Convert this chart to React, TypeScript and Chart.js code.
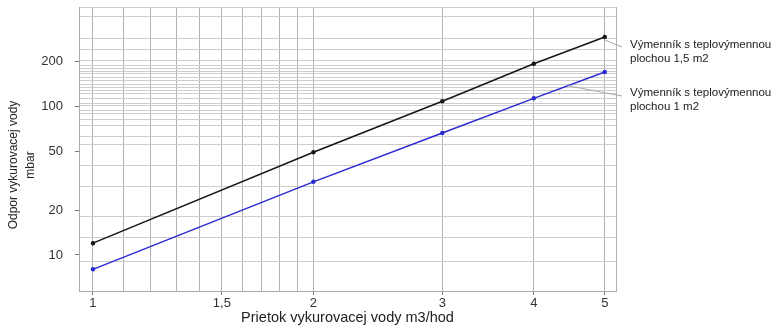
import React, { useEffect, useRef } from 'react';
import { Chart, registerables } from 'chart.js';

Chart.register(...registerables);

// ---- data ----
const flowX = [1, 2, 3, 4, 5];
const drop15 = [12, 49, 108, 193, 292]; // Výmenník 1,5 m2 (black)
const drop1 = [8, 31, 66, 113, 170]; // Výmenník 1 m2 (blue)

const legend15 = ['Výmenník s teplovýmennou', 'plochou 1,5 m2'];
const legend1 = ['Výmenník s teplovýmennou', 'plochou 1 m2'];
const xTitle = 'Prietok vykurovacej vody m3/hod';
const yTitle = ['Odpor vykurovacej vody', 'mbar'];

const xMin = 0.957;
const xMax = 5.18;
const yMin = 5.72;
const yMax = 465;

const xGrid = [1, 1.1, 1.2, 1.3, 1.4, 1.5, 1.6, 1.7, 1.8, 1.9, 2, 3, 4, 5];
const xTickValues = [1, 1.5, 2, 3, 4, 5];
const xTickText = ['1', '1,5', '2', '3', '4', '5'];

const yGrid = [9, 13, 18, 29, 40, 55, 63, 74, 81, 89, 94, 101, 105, 112, 121, 127, 134, 141, 148, 156, 165, 170, 180, 189, 203, 241, 286, 400];
const yTickValues = [10, 20, 50, 100, 200];
const yTickText = ['10', '20', '50', '100', '200'];

const FONT = '"Liberation Sans", Arial, sans-serif';

function mergeTicks(a: number[], b: number[], lo: number, hi: number) {
  return Array.from(new Set([lo, ...a, ...b, hi])).sort((p, q) => p - q).map((v) => ({ value: v }));
}

const annotPlugin = {
  id: 'annot',
  afterDatasetsDraw(chart: any) {
    const { ctx, chartArea, scales } = chart;
    const xs = scales.x;
    const ys = scales.y;
    ctx.save();
    // y axis title
    const cy = (chartArea.top + chartArea.bottom) / 2 + 16;
    ctx.fillStyle = '#222';
    ctx.font = `12px ${FONT}`;
    ctx.textAlign = 'center';
    ctx.textBaseline = 'middle';
    yTitle.forEach((t, i) => {
      ctx.save();
      ctx.translate(14 + i * 17, cy);
      ctx.rotate(-Math.PI / 2);
      ctx.fillText(t, 0, 0);
      ctx.restore();
    });

    // leader lines
    ctx.strokeStyle = '#a8a8a8';
    ctx.lineWidth = 1;
    const lastI = flowX.length - 1;
    const p1x = xs.getPixelForValue(flowX[lastI]);
    const p1y = ys.getPixelForValue(drop15[lastI]);
    const ex = chartArea.right + 6;
    ctx.beginPath();
    ctx.moveTo(p1x, p1y + 3);
    ctx.lineTo(ex, 47);
    ctx.stroke();

    const xa = 4.45;
    const t = Math.log(xa / flowX[lastI - 1]) / Math.log(flowX[lastI] / flowX[lastI - 1]);
    const ya = drop1[lastI - 1] * Math.pow(drop1[lastI] / drop1[lastI - 1], t);
    ctx.beginPath();
    ctx.moveTo(xs.getPixelForValue(xa), ys.getPixelForValue(ya));
    ctx.lineTo(ex, 96);
    ctx.stroke();

    // labels
    ctx.fillStyle = '#1a1a1a';
    ctx.font = `11.5px ${FONT}`;
    ctx.textAlign = 'left';
    const tx = chartArea.right + 14;
    ctx.fillText(legend15[0], tx, 45);
    ctx.fillText(legend15[1], tx, 59);
    ctx.fillText(legend1[0], tx, 93);
    ctx.fillText(legend1[1], tx, 107);
    ctx.restore();
  },
};

export default function App() {
  const ref = useRef<HTMLCanvasElement>(null);
  useEffect(() => {
    if (!ref.current) return;
    Chart.defaults.font.family = FONT;
    const chart = new Chart(ref.current, {
      type: 'line',
      data: {
        datasets: [
          {
            label: legend15.join(' '),
            data: flowX.map((x, i) => ({ x, y: drop15[i] })),
            borderColor: '#161616',
            backgroundColor: '#161616',
            borderWidth: 1.5,
            pointRadius: 1.5,
            pointHoverRadius: 1.5,
            tension: 0,
          },
          {
            label: legend1.join(' '),
            data: flowX.map((x, i) => ({ x, y: drop1[i] })),
            borderColor: '#2a2ad2',
            backgroundColor: '#2a2ad2',
            borderWidth: 1.5,
            pointRadius: 1.5,
            pointHoverRadius: 1.5,
            tension: 0,
          },
        ],
      },
      options: {
        responsive: false,
        animation: false,
        layout: { padding: { top: 7, right: 159, left: 0, bottom: 0 } },
        plugins: { legend: { display: false }, tooltip: { enabled: false } },
        scales: {
          x: {
            type: 'logarithmic',
            min: xMin,
            max: xMax,
            afterBuildTicks: (s: any) => {
              s.ticks = mergeTicks(xGrid, xTickValues, xMin, xMax);
            },
            afterFit: (s: any) => {
              s.height = 41;
              s.paddingLeft = 0;
              s.paddingRight = 0;
            },
            grid: {
              color: (c: any) => {
                const v = c.tick?.value;
                return xGrid.includes(v) || v === xMax ? '#b4b4b4' : 'rgba(0,0,0,0)';
              },
              tickColor: (c: any) => (xTickValues.includes(c.tick?.value) ? '#777' : 'rgba(0,0,0,0)'),
              tickLength: 4,
              lineWidth: 1,
            },
            border: { color: '#aaaaaa' },
            ticks: {
              autoSkip: false,
              maxRotation: 0,
              padding: 1,
              color: '#333',
              font: { size: 13 },
              callback: (v: any) => {
                const i = xTickValues.indexOf(Number(v));
                return i >= 0 ? xTickText[i] : '';
              },
            },
            title: {
              display: true,
              text: xTitle,
              color: '#222',
              font: { size: 14.5 },
              padding: { top: 0, bottom: 5 },
            },
          },
          y: {
            type: 'logarithmic',
            min: yMin,
            max: yMax,
            afterBuildTicks: (s: any) => {
              s.ticks = mergeTicks(yGrid, yTickValues, yMin, yMax);
            },
            afterFit: (s: any) => {
              s.width = 79;
              s.paddingTop = 0;
              s.paddingBottom = 0;
            },
            grid: {
              color: (c: any) => {
                const v = c.tick?.value;
                return yGrid.includes(v) || v === yMax ? '#cdcdcd' : 'rgba(0,0,0,0)';
              },
              tickColor: (c: any) => (yTickValues.includes(c.tick?.value) ? '#777' : 'rgba(0,0,0,0)'),
              tickLength: 4,
              lineWidth: 1,
            },
            border: { color: '#aaaaaa' },
            ticks: {
              autoSkip: false,
              padding: 12,
              color: '#333',
              font: { size: 13 },
              callback: (v: any) => {
                const i = yTickValues.indexOf(Number(v));
                return i >= 0 ? yTickText[i] : '';
              },
            },
          },
        },
      },
      plugins: [annotPlugin],
    } as any);
    return () => chart.destroy();
  }, []);

  return (
    <canvas
      ref={ref}
      width={775}
      height={332}
      style={{ position: 'absolute', left: 0, top: 0, display: 'block', width: 775, height: 332 }}
    />
  );
}
